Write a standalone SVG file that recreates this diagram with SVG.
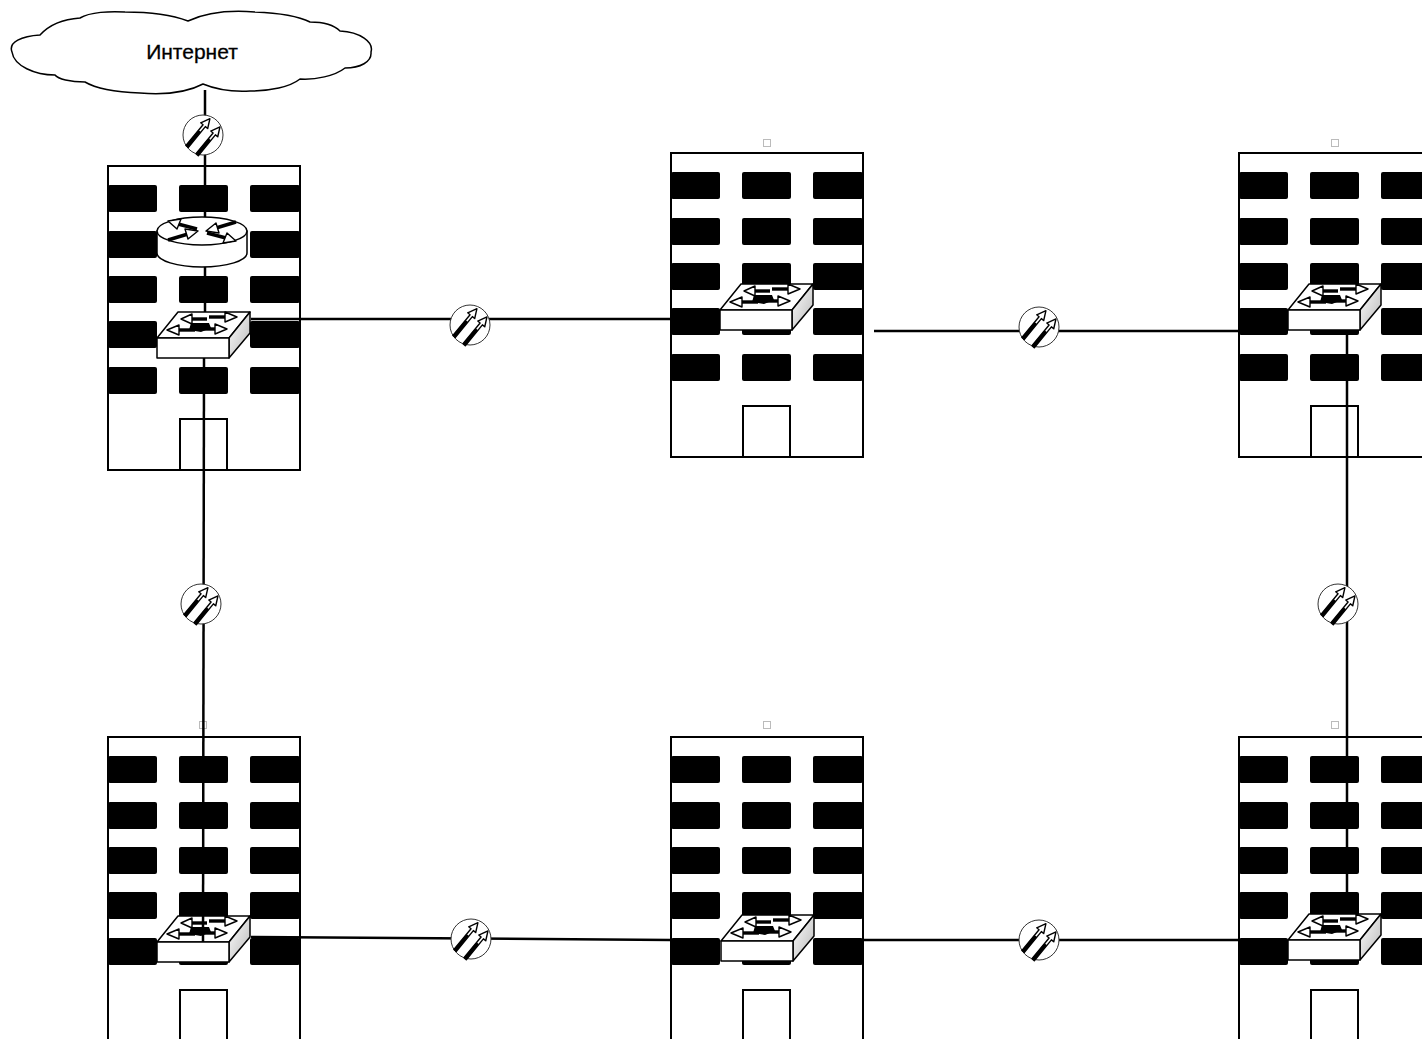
<svg xmlns="http://www.w3.org/2000/svg" xmlns:xlink="http://www.w3.org/1999/xlink" width="1422" height="1039" viewBox="0 0 1422 1039">
  <style>
    .wall { fill: #fff; stroke: #000; stroke-width: 2; }
    .win { fill: #000; }
    .door { fill: #fff; stroke: #000; stroke-width: 2; }
    .dev { fill: #fff; stroke: #000; stroke-width: 1.5; stroke-linejoin: round; }
    .side { fill: url(#sideShade); stroke: #000; stroke-width: 1.5; stroke-linejoin: round; }
    .shaft { stroke: #000; stroke-width: 3.4; fill: none; stroke-linecap: butt; }
    .head { fill: #fff; stroke: #000; stroke-width: 1.4; stroke-linejoin: round; }
    .wire { stroke: #000; stroke-width: 2.5; fill: none; }
    .pin { fill: #fff; stroke: #bbb; stroke-width: 1; }
    .label { font-family: "Liberation Sans", Arial, sans-serif; font-size: 21px; fill: #000; stroke: #000; stroke-width: 0.3; }
  </style>
  <defs>
    <linearGradient id="sideShade" x1="0" y1="0" x2="1" y2="1">
      <stop offset="0" stop-color="#ffffff"/>
      <stop offset="1" stop-color="#b8b8b8"/>
    </linearGradient>

    <!-- office block: 192 x 304, five floors of windows and a door -->
    <g id="building">
      <rect class="wall" x="0" y="0" width="192" height="304"/>
      <g class="win">
        <rect x="0" y="19" width="49" height="27" rx="2"/>
        <rect x="71" y="19" width="49" height="27" rx="2"/>
        <rect x="142" y="19" width="50" height="27" rx="2"/>
        <rect x="0" y="65" width="49" height="27" rx="2"/>
        <rect x="71" y="65" width="49" height="27" rx="2"/>
        <rect x="142" y="65" width="50" height="27" rx="2"/>
        <rect x="0" y="110" width="49" height="27" rx="2"/>
        <rect x="71" y="110" width="49" height="27" rx="2"/>
        <rect x="142" y="110" width="50" height="27" rx="2"/>
        <rect x="0" y="155" width="49" height="27" rx="2"/>
        <rect x="71" y="155" width="49" height="27" rx="2"/>
        <rect x="142" y="155" width="50" height="27" rx="2"/>
        <rect x="0" y="201" width="49" height="27" rx="2"/>
        <rect x="71" y="201" width="49" height="27" rx="2"/>
        <rect x="142" y="201" width="50" height="27" rx="2"/>
      </g>
      <rect class="door" x="72" y="253" width="47" height="51"/>
    </g>

    <!-- workgroup switch, origin at the top-left corner of the front face -->
    <g id="switch">
      <polygon class="dev" points="0,0 21,-26 93,-26 72,0"/>
      <polygon class="side" points="72,0 93,-26 93,-5 72,20"/>
      <rect class="dev" x="0" y="0" width="72" height="20"/>
      <path d="M34,-15 L52,-15 L54,-10 L44,-6 L32,-8 Z" fill="#000"/>
      <line class="shaft" x1="50" y1="-19" x2="33" y2="-19"/>
      <polygon class="head" points="35,-24 24,-19 35,-14"/>
      <line class="shaft" x1="52" y1="-21" x2="70" y2="-21"/>
      <polygon class="head" points="68,-26 80,-21 68,-16"/>
      <line class="shaft" x1="38" y1="-8" x2="20" y2="-8"/>
      <polygon class="head" points="22,-13 10,-8 22,-3"/>
      <line class="shaft" x1="44" y1="-9" x2="60" y2="-9"/>
      <polygon class="head" points="58,-14 70,-9 58,-4"/>
    </g>

    <!-- leased-line marker: circle with two parallel arrows -->
    <g id="link">
      <circle r="20" fill="#fff" stroke="#333" stroke-width="1"/>
      <g transform="rotate(-50.6)">
        <path class="head" d="M-19,-6.5 L8,-6.5 L8,-9.5 L17,-5 L8,-0.5 L8,-3.5 L-19,-3.5 Z" stroke-width="1.1"/>
        <line x1="-19" y1="-5" x2="1" y2="-5" stroke="#000" stroke-width="3.2"/>
        <path class="head" d="M-19,6.5 L8,6.5 L8,3.5 L17,8 L8,12.5 L8,9.5 L-19,9.5 Z" stroke-width="1.1"/>
        <line x1="-19" y1="8" x2="1" y2="8" stroke="#000" stroke-width="3.2"/>
      </g>
    </g>
  </defs>

  <rect x="0" y="0" width="1422" height="1039" fill="#fff"/>

  <!-- Internet cloud -->
  <g id="internet">
    <path class="dev" d="M12,52 C8,42 22,36 40,35 C50,24 65,19 80,18 C90,12 110,11 125,12 C150,12 172,15 188,21 C205,13 230,10 255,12 C280,13 300,17 310,22 C325,22 335,26 340,31 C360,32 374,42 371,52 C372,62 360,68 345,68 C335,76 315,80 300,79 C290,87 270,91 250,91 C232,92 215,89 203,84 C188,92 165,95 140,93 C115,92 95,88 85,82 C70,82 58,79 55,75 C35,75 14,66 12,52 Z"/>
    <text class="label" x="192" y="59" text-anchor="middle">Интернет</text>
  </g>

  <!-- buildings with their network equipment -->
  <g id="office-1">
    <use xlink:href="#building" x="108" y="166"/>
    <g id="router">
      <path class="dev" d="M157,231 L157,253 A45,14 0 0 0 247,253 L247,231 Z"/>
      <ellipse class="dev" cx="202" cy="231" rx="45" ry="14"/>
      <line class="shaft" x1="197" y1="229" x2="178" y2="224"/>
      <polygon class="head" points="181,219 168,221 177,229"/>
      <line class="shaft" x1="207" y1="233" x2="226" y2="238"/>
      <polygon class="head" points="223,243 236,241 227,233"/>
      <line class="shaft" x1="236" y1="222" x2="216" y2="228"/>
      <polygon class="head" points="216,223 206,231 219,233"/>
      <line class="shaft" x1="168" y1="240" x2="188" y2="234"/>
      <polygon class="head" points="188,239 198,231 185,229"/>
    </g>
    <use xlink:href="#switch" x="157" y="338"/>
  </g>

  <g id="office-2">
    <rect class="pin" x="763.5" y="139.5" width="7" height="7"/>
    <use xlink:href="#building" x="671" y="153"/>
    <use xlink:href="#switch" x="720" y="310"/>
  </g>

  <g id="office-3">
    <rect class="pin" x="1331.5" y="139.5" width="7" height="7"/>
    <use xlink:href="#building" x="1239" y="153"/>
    <use xlink:href="#switch" x="1288" y="310"/>
  </g>

  <g id="office-4">
    <rect class="pin" x="199.5" y="721.5" width="7" height="7"/>
    <use xlink:href="#building" x="108" y="737"/>
    <use xlink:href="#switch" x="157" y="942"/>
  </g>

  <g id="office-5">
    <rect class="pin" x="763.5" y="721.5" width="7" height="7"/>
    <use xlink:href="#building" x="671" y="737"/>
    <use xlink:href="#switch" x="721" y="941"/>
  </g>

  <g id="office-6">
    <rect class="pin" x="1331.5" y="721.5" width="7" height="7"/>
    <use xlink:href="#building" x="1239" y="737"/>
    <use xlink:href="#switch" x="1288" y="940"/>
  </g>

  <!-- cabling -->
  <g id="connectors">
    <line class="wire" x1="205" y1="90" x2="205" y2="217"/>
    <line class="wire" x1="205" y1="267" x2="205" y2="312"/>
    <line class="wire" x1="204" y1="358" x2="203" y2="942"/>
    <line class="wire" x1="251" y1="319" x2="671" y2="319"/>
    <line class="wire" x1="874" y1="331" x2="1240" y2="331"/>
    <line class="wire" x1="1347" y1="330" x2="1347" y2="914"/>
    <line class="wire" x1="251" y1="937" x2="671" y2="940"/>
    <line class="wire" x1="862" y1="940" x2="1240" y2="940"/>
  </g>

  <!-- line markers -->
  <g id="link-markers">
    <use xlink:href="#link" x="203" y="135"/>
    <use xlink:href="#link" x="470" y="325"/>
    <use xlink:href="#link" x="1039" y="327"/>
    <use xlink:href="#link" x="201" y="604"/>
    <use xlink:href="#link" x="1338" y="604"/>
    <use xlink:href="#link" x="471" y="939"/>
    <use xlink:href="#link" x="1039" y="940"/>
  </g>
</svg>
